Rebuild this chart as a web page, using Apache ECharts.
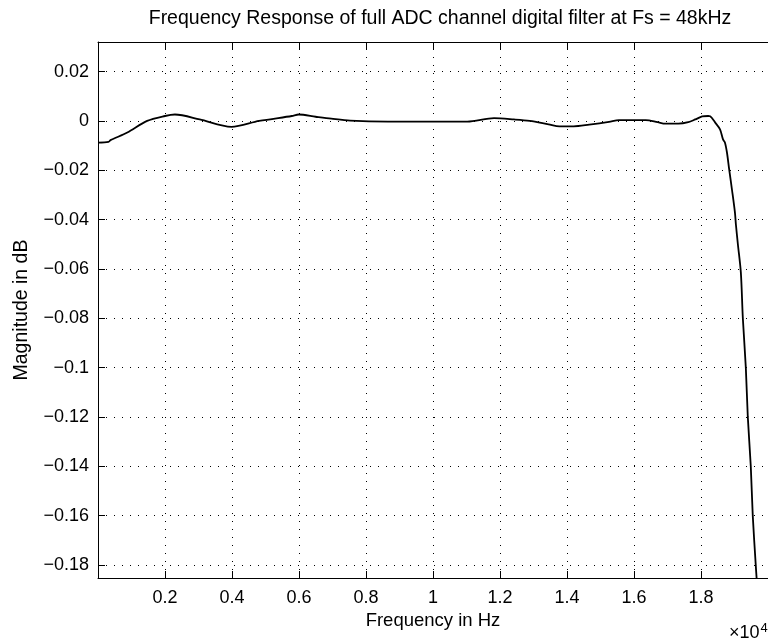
<!DOCTYPE html>
<html>
<head>
<meta charset="utf-8">
<script src="https://cdn.jsdelivr.net/npm/echarts@6/dist/echarts.min.js"></script>
<style>
html,body{margin:0;padding:0;background:#fff;}
#chart{width:768px;height:641px;}
</style>
</head>
<body>
<div id="chart"></div>
<script>
// Frequency (Hz) and magnitude (dB)
var freqHz = [0, 314, 373, 876, 1467, 2000, 2296, 3036, 3982, 4810, 5786, 5993, 6497, 6965, 7527, 8657, 11024, 11822, 12414, 12888, 13450, 13775, 14200, 14663, 15254, 15550, 16349, 16704, 16941, 17326, 17621, 17828, 18035, 18213, 18272, 18420, 18568, 18657, 18716, 18775, 18835, 18924, 19012, 19042, 19101, 19190, 19249, 19338, 19397, 19486, 19545, 19634, 19663];
var magDb = [-0.0088, -0.0085, -0.0078, -0.0047, 0.0, 0.002, 0.0026, 0.0006, -0.0024, 0.0, 0.002, 0.0026, 0.0017, 0.0009, 0.0001, -0.0003, -0.0003, 0.0011, 0.0006, 0.0, -0.0014, -0.0022, -0.0022, -0.0015, -0.0004, 0.0003, 0.0003, -0.0005, -0.0011, -0.0011, -0.0005, 0.0006, 0.0018, 0.002, 0.0019, -0.0006, -0.0034, -0.0075, -0.0088, -0.0128, -0.019, -0.0278, -0.037, -0.042, -0.05, -0.0615, -0.08, -0.10, -0.12, -0.14, -0.16, -0.18, -0.186];

var xTicks = [2000, 4000, 6000, 8000, 10000, 12000, 14000, 16000, 18000];
var xTickLabels = ['0.2', '0.4', '0.6', '0.8', '1', '1.2', '1.4', '1.6', '1.8'];
var yTicks = [0.02, 0, -0.02, -0.04, -0.06, -0.08, -0.1, -0.12, -0.14, -0.16, -0.18];
var yTickLabels = ['0.02', '0', '\u22120.02', '\u22120.04', '\u22120.06', '\u22120.08', '\u22120.1', '\u22120.12', '\u22120.14', '\u22120.16', '\u22120.18'];

var titleText = 'Frequency Response of full ADC channel digital filter at Fs = 48kHz';
var xName = 'Frequency in Hz';
var yName = 'Magnitude in dB';

var FONT = 'Liberation Sans';
var xMin = 0, xMax = 20000, yMin = -0.1853, yMax = 0.032;

var chart = echarts.init(document.getElementById('chart'), null, {renderer: 'canvas'});

var gridMarks = [];
xTicks.forEach(function (v) { gridMarks.push({xAxis: v}); });
yTicks.forEach(function (v) { gridMarks.push({yAxis: v}); });

function lookup(ticks, labels) {
  return function (v) {
    for (var i = 0; i < ticks.length; i++) {
      if (Math.abs(ticks[i] - v) < 1e-9) return labels[i];
    }
    return '';
  };
}

var option = {
  animation: false,
  backgroundColor: '#fff',
  grid: {left: 98, top: 42, right: -5, bottom: 63, containLabel: false},
  graphic: [
    {type: 'text', x: 440, y: 19, style: {text: titleText, font: '19.5px "' + FONT + '"', fill: '#000', textAlign: 'center', textVerticalAlign: 'middle'}},
    {type: 'text', x: 729, y: 633, style: {
      text: '{a|\u00d710}{b|4}',
      rich: {a: {font: '18px "' + FONT + '"', fill: '#000'}, b: {font: '13px "' + FONT + '"', fill: '#000', verticalAlign: 'top', padding: [0,0,10,1]}},
      textVerticalAlign: 'middle'}}
  ],
  xAxis: [
    {
      type: 'value', min: xMin, max: xMax, position: 'bottom',
      name: xName, nameLocation: 'middle', nameGap: 29,
      nameTextStyle: {fontFamily: FONT, fontSize: 18.5, color: '#000'},
      axisLine: {show: true, onZero: false, lineStyle: {color: '#000', width: 1}},
      axisTick: {show: true, inside: true, length: 7, customValues: xTicks, lineStyle: {color: '#000'}},
      axisLabel: {show: true, customValues: xTicks, formatter: lookup(xTicks, xTickLabels), margin: 11, fontFamily: FONT, fontSize: 18, color: '#000'},
      splitLine: {show: false}
    },
    {
      type: 'value', min: xMin, max: xMax, position: 'top',
      axisLine: {show: true, onZero: false, lineStyle: {color: '#000', width: 1}},
      axisTick: {show: true, inside: true, length: 7, customValues: xTicks, lineStyle: {color: '#000'}},
      axisLabel: {show: false},
      splitLine: {show: false}
    }
  ],
  yAxis: [
    {
      type: 'value', min: yMin, max: yMax, position: 'left',
      name: yName, nameLocation: 'middle', nameGap: 66, nameRotate: 90,
      nameTextStyle: {fontFamily: FONT, fontSize: 19.5, color: '#000'},
      axisLine: {show: true, onZero: false, lineStyle: {color: '#000', width: 1}},
      axisTick: {show: true, inside: true, length: 7, customValues: yTicks, lineStyle: {color: '#000'}},
      axisLabel: {show: true, customValues: yTicks, formatter: lookup(yTicks, yTickLabels), margin: 9, fontFamily: FONT, fontSize: 18, color: '#000'},
      splitLine: {show: false}
    }
  ],
  series: [
    {
      type: 'line',
      xAxisIndex: 0, yAxisIndex: 0,
      data: freqHz.map(function (f, i) { return [f, magDb[i]]; }),
      showSymbol: false,
      smooth: 0.3,
      clip: true,
      lineStyle: {color: '#000', width: 1.8},
      markLine: {
        silent: true, symbol: 'none', animation: false,
        label: {show: false},
        lineStyle: {color: '#000', type: [1, 7], width: 1},
        data: gridMarks
      },
      z: 5
    }
  ]
};
chart.setOption(option);
</script>
</body>
</html>
